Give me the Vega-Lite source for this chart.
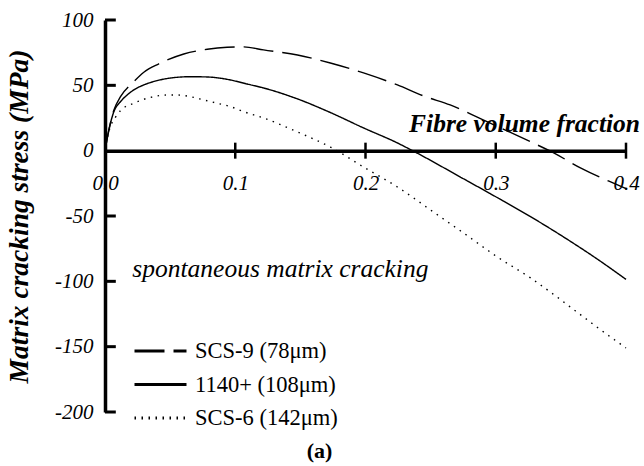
{
  "$schema": "https://vega.github.io/schema/vega-lite/v6.json",
  "width": 521,
  "height": 392,
  "autosize": {"type": "none"},
  "padding": {"left": 105, "top": 20, "right": 18, "bottom": 54},
  "background": "white",
  "config": {"view": {"stroke": null}, "font": "Liberation Serif"},
  "datasets": {
    "curves": [
      {"series": "SCS-9 (78μm)", "x": 0, "y": 0},
      {"series": "SCS-9 (78μm)", "x": 0.002, "y": 11},
      {"series": "SCS-9 (78μm)", "x": 0.0068, "y": 31},
      {"series": "SCS-9 (78μm)", "x": 0.0119, "y": 41.3},
      {"series": "SCS-9 (78μm)", "x": 0.0221, "y": 52.8},
      {"series": "SCS-9 (78μm)", "x": 0.0298, "y": 60},
      {"series": "SCS-9 (78μm)", "x": 0.0413, "y": 66.4},
      {"series": "SCS-9 (78μm)", "x": 0.0605, "y": 74},
      {"series": "SCS-9 (78μm)", "x": 0.0785, "y": 77.6},
      {"series": "SCS-9 (78μm)", "x": 0.0938, "y": 79.1},
      {"series": "SCS-9 (78μm)", "x": 0.1066, "y": 79.4},
      {"series": "SCS-9 (78μm)", "x": 0.1217, "y": 77.1},
      {"series": "SCS-9 (78μm)", "x": 0.1478, "y": 73.2},
      {"series": "SCS-9 (78μm)", "x": 0.173, "y": 67.1},
      {"series": "SCS-9 (78μm)", "x": 0.1985, "y": 59.5},
      {"series": "SCS-9 (78μm)", "x": 0.2245, "y": 50.3},
      {"series": "SCS-9 (78μm)", "x": 0.2445, "y": 41.9},
      {"series": "SCS-9 (78μm)", "x": 0.265, "y": 35},
      {"series": "SCS-9 (78μm)", "x": 0.2937, "y": 22},
      {"series": "SCS-9 (78μm)", "x": 0.327, "y": 6.7},
      {"series": "SCS-9 (78μm)", "x": 0.3445, "y": -1.7},
      {"series": "SCS-9 (78μm)", "x": 0.365, "y": -13.2},
      {"series": "SCS-9 (78μm)", "x": 0.39, "y": -24.7},
      {"series": "SCS-9 (78μm)", "x": 0.4, "y": -29},
      {"series": "1140+ (108μm)", "x": 0, "y": 0},
      {"series": "1140+ (108μm)", "x": 0.003, "y": 16},
      {"series": "1140+ (108μm)", "x": 0.0068, "y": 29.8},
      {"series": "1140+ (108μm)", "x": 0.0119, "y": 37.5},
      {"series": "1140+ (108μm)", "x": 0.017, "y": 42.6},
      {"series": "1140+ (108μm)", "x": 0.0221, "y": 46.5},
      {"series": "1140+ (108μm)", "x": 0.0298, "y": 50.3},
      {"series": "1140+ (108μm)", "x": 0.04, "y": 53.6},
      {"series": "1140+ (108μm)", "x": 0.0528, "y": 55.9},
      {"series": "1140+ (108μm)", "x": 0.0656, "y": 56.6},
      {"series": "1140+ (108μm)", "x": 0.0785, "y": 56.4},
      {"series": "1140+ (108μm)", "x": 0.0938, "y": 54.6},
      {"series": "1140+ (108μm)", "x": 0.1092, "y": 51},
      {"series": "1140+ (108μm)", "x": 0.1217, "y": 48},
      {"series": "1140+ (108μm)", "x": 0.1478, "y": 39.6},
      {"series": "1140+ (108μm)", "x": 0.173, "y": 29.2},
      {"series": "1140+ (108μm)", "x": 0.1985, "y": 17.4},
      {"series": "1140+ (108μm)", "x": 0.2245, "y": 5.9},
      {"series": "1140+ (108μm)", "x": 0.2361, "y": 0},
      {"series": "1140+ (108μm)", "x": 0.2752, "y": -21.5},
      {"series": "1140+ (108μm)", "x": 0.3013, "y": -36},
      {"series": "1140+ (108μm)", "x": 0.3267, "y": -50.5},
      {"series": "1140+ (108μm)", "x": 0.352, "y": -66},
      {"series": "1140+ (108μm)", "x": 0.378, "y": -83},
      {"series": "1140+ (108μm)", "x": 0.4, "y": -98.5},
      {"series": "SCS-6 (142μm)", "x": 0, "y": 0},
      {"series": "SCS-6 (142μm)", "x": 0.0019, "y": 10.5},
      {"series": "SCS-6 (142μm)", "x": 0.004, "y": 18},
      {"series": "SCS-6 (142μm)", "x": 0.008, "y": 25.5},
      {"series": "SCS-6 (142μm)", "x": 0.0119, "y": 30.6},
      {"series": "SCS-6 (142μm)", "x": 0.0221, "y": 36.3},
      {"series": "SCS-6 (142μm)", "x": 0.0298, "y": 39.3},
      {"series": "SCS-6 (142μm)", "x": 0.0372, "y": 41.3},
      {"series": "SCS-6 (142μm)", "x": 0.0478, "y": 42.6},
      {"series": "SCS-6 (142μm)", "x": 0.0554, "y": 42.6},
      {"series": "SCS-6 (142μm)", "x": 0.0656, "y": 41.3},
      {"series": "SCS-6 (142μm)", "x": 0.0759, "y": 38.8},
      {"series": "SCS-6 (142μm)", "x": 0.0861, "y": 36.3},
      {"series": "SCS-6 (142μm)", "x": 0.0964, "y": 33.7},
      {"series": "SCS-6 (142μm)", "x": 0.1066, "y": 29.8},
      {"series": "SCS-6 (142μm)", "x": 0.1217, "y": 25},
      {"series": "SCS-6 (142μm)", "x": 0.1478, "y": 14.3},
      {"series": "SCS-6 (142μm)", "x": 0.173, "y": 2.8},
      {"series": "SCS-6 (142μm)", "x": 0.1985, "y": -12.5},
      {"series": "SCS-6 (142μm)", "x": 0.2245, "y": -27.8},
      {"series": "SCS-6 (142μm)", "x": 0.25, "y": -45.4},
      {"series": "SCS-6 (142μm)", "x": 0.2753, "y": -63},
      {"series": "SCS-6 (142μm)", "x": 0.3013, "y": -81.4},
      {"series": "SCS-6 (142μm)", "x": 0.3267, "y": -97.4},
      {"series": "SCS-6 (142μm)", "x": 0.346, "y": -111.2},
      {"series": "SCS-6 (142μm)", "x": 0.3613, "y": -122.7},
      {"series": "SCS-6 (142μm)", "x": 0.3766, "y": -134.2},
      {"series": "SCS-6 (142μm)", "x": 0.4, "y": -151}
    ],
    "xticks": [{"v": 0.1}, {"v": 0.2}, {"v": 0.3}, {"v": 0.4}],
    "yticks": [{"v": -200}, {"v": -150}, {"v": -100}, {"v": -50}, {"v": 50}, {"v": 100}]
  },
  "layer": [
    {
      "data": {"name": "curves"},
      "mark": {"type": "line", "color": "black", "strokeWidth": 1.4, "interpolate": "monotone"},
      "encoding": {
        "x": {
          "field": "x", "type": "quantitative", "title": null,
          "scale": {"domain": [0, 0.4], "nice": false, "zero": false},
          "axis": {
            "orient": "bottom", "offset": -261.3, "values": [0, 0.1, 0.2, 0.3, 0.4],
            "format": ".1f", "title": null, "grid": false, "ticks": false,
            "domainColor": "black", "domainWidth": 3.5,
            "labelFont": "Liberation Serif", "labelFontStyle": "italic", "labelFontSize": 21,
            "labelColor": "black", "labelPadding": 22, "labelFlush": false, "labelOverlap": false
          }
        },
        "y": {
          "field": "y", "type": "quantitative", "title": "Matrix cracking stress (MPa)",
          "scale": {"domain": [-200, 100], "nice": false, "zero": false},
          "axis": {
            "values": [-200, -150, -100, -50, 0, 50, 100],
            "labelExpr": "'' + datum.value",
            "title": "Matrix cracking stress (MPa)", "grid": false,
            "ticks": false,
            "domainWidth": 3.5, "domainColor": "black",
            "labelPadding": 12, "labelFont": "Liberation Serif", "labelFontStyle": "italic",
            "labelFontSize": 21, "labelColor": "black", "labelOverlap": false,
            "titleFont": "Liberation Serif", "titleFontStyle": "italic", "titleFontWeight": "bold",
            "titleFontSize": 27.5, "titleColor": "black", "titlePadding": 21
          }
        },
        "strokeDash": {
          "field": "series", "type": "nominal",
          "scale": {
            "domain": ["SCS-9 (78μm)", "1140+ (108μm)", "SCS-6 (142μm)"],
            "range": [[30, 9], [1, 0], [1.5, 5.5]]
          },
          "legend": {
            "title": null, "orient": "none", "legendX": 28, "legendY": 321,
            "symbolType": "stroke", "symbolSize": 2704, "symbolStrokeWidth": 3,
            "symbolStrokeColor": "black", "clipHeight": 20, "rowPadding": 10.5,
            "labelFont": "Liberation Serif", "labelFontSize": 22.5, "labelColor": "black",
            "labelOffset": 7, "padding": 0, "labelLimit": 300
          }
        }
      }
    },
    {
      "data": {"name": "xticks"},
      "mark": {"type": "tick", "orient": "vertical", "size": 16, "thickness": 2.5, "color": "black", "opacity": 1},
      "encoding": {
        "x": {"field": "v", "type": "quantitative", "title": null},
        "y": {"datum": 0}
      }
    },
    {
      "data": {"name": "yticks"},
      "mark": {"type": "rule", "strokeWidth": 3, "color": "black"},
      "encoding": {
        "x": {"datum": 0},
        "x2": {"datum": 0.0083},
        "y": {"field": "v", "type": "quantitative", "title": "Matrix cracking stress (MPa)"}
      }
    },
    {
      "data": {"values": [{}]},
      "mark": {"type": "text", "text": "Fibre volume fraction", "align": "right", "baseline": "alphabetic", "dx": 14, "font": "Liberation Serif", "fontStyle": "italic", "fontWeight": "bold", "fontSize": 25.5, "color": "black"},
      "encoding": {"x": {"datum": 0.4}, "y": {"datum": 14.5}}
    },
    {
      "data": {"values": [{}]},
      "mark": {"type": "text", "text": "spontaneous matrix cracking", "align": "left", "baseline": "alphabetic", "font": "Liberation Serif", "fontStyle": "italic", "fontSize": 25.5, "color": "black"},
      "encoding": {"x": {"datum": 0.021}, "y": {"datum": -96.5}}
    },
    {
      "data": {"values": [{}]},
      "mark": {"type": "text", "text": "(a)", "align": "center", "baseline": "alphabetic", "font": "Liberation Serif", "fontWeight": "bold", "fontSize": 22, "color": "black"},
      "encoding": {"x": {"datum": 0.1647}, "y": {"datum": -235}}
    }
  ]
}
